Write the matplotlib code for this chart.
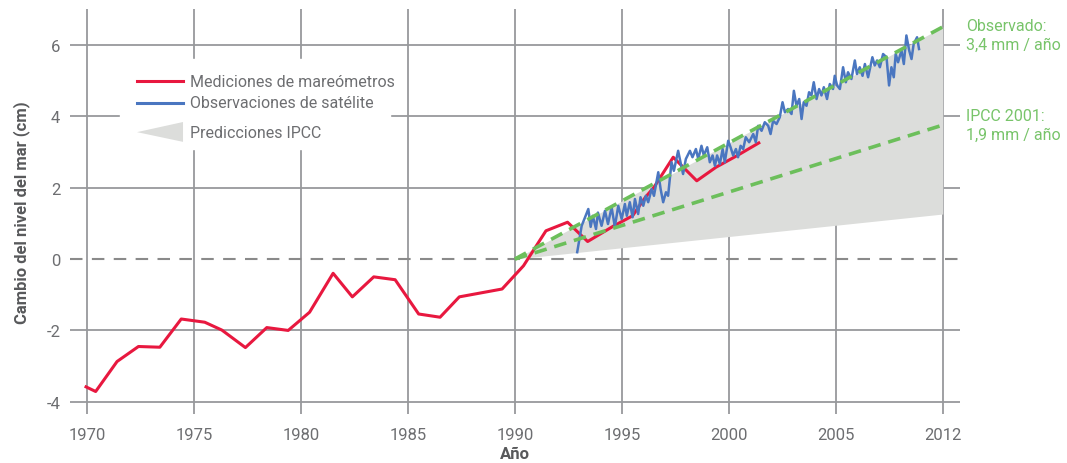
import matplotlib
matplotlib.use('Agg')
import matplotlib.pyplot as plt
from matplotlib.patches import Rectangle, Polygon

plt.rcParams['font.family'] = ['Roboto', 'DejaVu Sans']
plt.rcParams['axes.unicode_minus'] = False

# Mediciones de mareómetros (cm)
tide_years = [1969.95, 1970.4, 1971.4, 1972.4, 1973.4, 1974.4, 1975.5, 1976.3, 1977.4,
              1978.4, 1979.4, 1980.4, 1981.5, 1982.4, 1983.4, 1984.4, 1985.5, 1986.5,
              1987.4, 1988.4, 1989.4, 1990.4, 1991.45, 1992.46, 1993.4, 1994.6, 1995.5,
              1996.1, 1996.5, 1997.4, 1998.5, 1999.4, 2000.4, 2001.4]
tide_values = [-3.58, -3.71, -2.87, -2.45, -2.47, -1.68, -1.77, -1.99, -2.48,
               -1.92, -2.0, -1.49, -0.40, -1.06, -0.50, -0.58, -1.54, -1.63,
               -1.06, -0.95, -0.84, -0.19, 0.79, 1.03, 0.49, 0.92, 1.21,
               1.73, 2.01, 2.85, 2.19, 2.57, 2.9, 3.25]

# Observaciones de satélite (cm)
sat_years = [1992.91, 1993.12, 1993.43, 1993.54, 1993.64, 1993.79, 1993.88, 1994.05, 1994.21,
             1994.35, 1994.52, 1994.67, 1994.83, 1994.99, 1995.14, 1995.23, 1995.37, 1995.50,
             1995.61, 1995.76, 1995.87, 1996.00, 1996.12, 1996.23, 1996.39, 1996.50, 1996.70,
             1996.81, 1996.93, 1997.06, 1997.16, 1997.32, 1997.43, 1997.63, 1997.74, 1997.86,
             1997.99, 1998.18, 1998.30, 1998.46, 1998.57, 1998.72, 1998.83, 1998.99, 1999.11,
             1999.24, 1999.35, 1999.45, 1999.58, 1999.71, 1999.81, 1999.97, 2000.08, 2000.20,
             2000.33, 2000.43, 2000.55, 2000.67, 2000.79, 2000.95, 2001.14, 2001.26, 2001.37,
             2001.53, 2001.68, 2001.84, 2001.95, 2002.07, 2002.23, 2002.38, 2002.51, 2002.62,
             2002.77, 2002.93, 2003.04, 2003.16, 2003.29, 2003.40, 2003.50, 2003.63, 2003.75,
             2003.86, 2003.97, 2004.10, 2004.22, 2004.33, 2004.44, 2004.59, 2004.72, 2004.87,
             2004.95, 2005.06, 2005.19, 2005.34, 2005.47, 2005.57, 2005.73, 2005.89, 2005.99,
             2006.12, 2006.25, 2006.36, 2006.51, 2006.71, 2006.82, 2006.93, 2007.06, 2007.21,
             2007.37, 2007.49, 2007.60, 2007.71, 2007.80, 2007.91, 2008.07, 2008.18, 2008.30,
             2008.43, 2008.54, 2008.64, 2008.80, 2008.89]
sat_values = [0.19, 0.93, 1.40, 0.90, 1.21, 0.84, 1.30, 0.93, 1.35,
              0.98, 1.45, 0.90, 1.49, 1.12, 1.54, 1.21, 1.59, 1.17,
              1.68, 1.26, 1.73, 1.49, 1.77, 1.59, 1.96, 1.77, 2.43,
              1.96, 1.59, 1.87, 1.77, 2.71, 2.47, 3.03, 2.71, 2.38,
              2.80, 3.03, 2.85, 3.08, 2.80, 3.17, 2.90, 3.13, 2.71,
              2.90, 2.61, 2.90, 2.66, 3.08, 2.71, 3.31, 3.13, 2.90,
              3.08, 2.85, 3.17, 3.08, 3.41, 3.27, 3.50, 3.27, 3.73,
              3.59, 3.83, 3.73, 3.50, 3.87, 3.78, 3.97, 4.39, 4.11,
              4.20, 4.06, 4.71, 4.29, 4.48, 3.92, 4.39, 4.29, 4.67,
              4.58, 4.95, 4.48, 4.76, 4.58, 4.81, 4.48, 4.90, 4.76,
              5.13, 4.86, 4.76, 5.37, 4.95, 5.23, 5.04, 5.56, 5.18,
              5.37, 5.13, 5.46, 5.09, 5.65, 5.42, 5.56, 5.37, 5.74,
              5.65, 4.86, 5.37, 5.09, 5.74, 5.51, 5.84, 5.46, 6.26,
              5.84, 5.60, 6.02, 6.21, 5.88]

# Tendencias y rango de predicciones IPCC
trend_years = [1990, 2010]
observed_trend = [0.0, 6.5]
ipcc_trend = [0.0, 3.75]
ipcc_upper = [0.0, 6.5]
ipcc_lower = [0.0, 1.26]

xtick_pos = [1970, 1975, 1980, 1985, 1990, 1995, 2000, 2005, 2010]
xtick_labels = ['1970', '1975', '1980', '1985', '1990', '1995', '2000', '2005', '2012']
ytick_pos = [-4, -2, 0, 2, 4, 6]

red = '#e8183f'
blue = '#4a76c0'
green = '#6cbf5b'
grid_c = '#97999c'
text_c = '#6d6e71'

fig = plt.figure(figsize=(10.67, 4.64), dpi=100)
ax = fig.add_axes([0.0656, 0.1056, 0.834, 0.8728])
ax.set_xlim(1969.2, 2010.8)
ax.set_ylim(-4.34, 7.0)
for s in ax.spines.values():
    s.set_visible(False)

for x in xtick_pos:
    ax.axvline(x, color=grid_c, lw=1.3, zorder=1)
for y in ytick_pos:
    if y == 0:
        ax.axhline(y, color='#8a8a8a', lw=1.5, dashes=(6, 4.5), zorder=1)
    else:
        ax.axhline(y, color=grid_c, lw=1.3, zorder=1)

ax.fill_between(trend_years, ipcc_lower, ipcc_upper, color='#dcdddb', lw=0, zorder=2)
ax.plot(tide_years, tide_values, color=red, lw=2.2, zorder=4)
ax.plot(sat_years, sat_values, color=blue, lw=1.8, zorder=5)
ax.plot(trend_years, ipcc_trend, color=green, lw=2.6, dashes=(3.5, 2.2), zorder=6)
ax.plot(trend_years, observed_trend, color=green, lw=2.6, dashes=(3.5, 2.2), zorder=6)

ax.set_xticks(xtick_pos)
ax.set_xticklabels(xtick_labels)
ax.set_yticks(ytick_pos)
ax.set_yticklabels([str(v) for v in ytick_pos])
ax.tick_params(length=0, labelsize=12, labelcolor=text_c)
ax.tick_params(axis='x', pad=9)
ax.tick_params(axis='y', pad=7)
ax.set_xlabel('Año', fontsize=12, fontweight='bold', color='#58595b', labelpad=3)
ax.set_ylabel('Cambio del nivel del mar (cm)', fontsize=12, fontweight='bold',
              color='#58595b', labelpad=12)

# anotaciones a la derecha
ax.text(2011.1, 6.27, 'Observado:\n3,4 mm / año', color='#78c46a', fontsize=11.5,
        va='center', ha='left', linespacing=1.3, clip_on=False)
ax.text(2011.1, 3.75, 'IPCC 2001:\n1,9 mm / año', color='#78c46a', fontsize=11.5,
        va='center', ha='left', linespacing=1.3, clip_on=False)

# leyenda
T = ax.transAxes
ax.add_patch(Rectangle((0.056, 0.654), 0.304, 0.223, transform=T, color='white', zorder=7))
ax.plot([0.0753, 0.127], [0.822, 0.822], transform=T, color=red, lw=2.2, zorder=8)
ax.plot([0.0753, 0.127], [0.768, 0.768], transform=T, color=blue, lw=2.2, zorder=8)
ax.add_patch(Polygon([(0.0753, 0.696), (0.127, 0.721), (0.127, 0.672)], closed=True,
                     transform=T, color='#dcdddb', lw=0, zorder=8))
for ty, lab in [(0.822, 'Mediciones de mareómetros'), (0.768, 'Observaciones de satélite'),
                (0.696, 'Predicciones IPCC')]:
    ax.text(0.135, ty, lab, transform=T, fontsize=11.5, color=text_c, va='center', zorder=9)

plt.savefig('out.png')
